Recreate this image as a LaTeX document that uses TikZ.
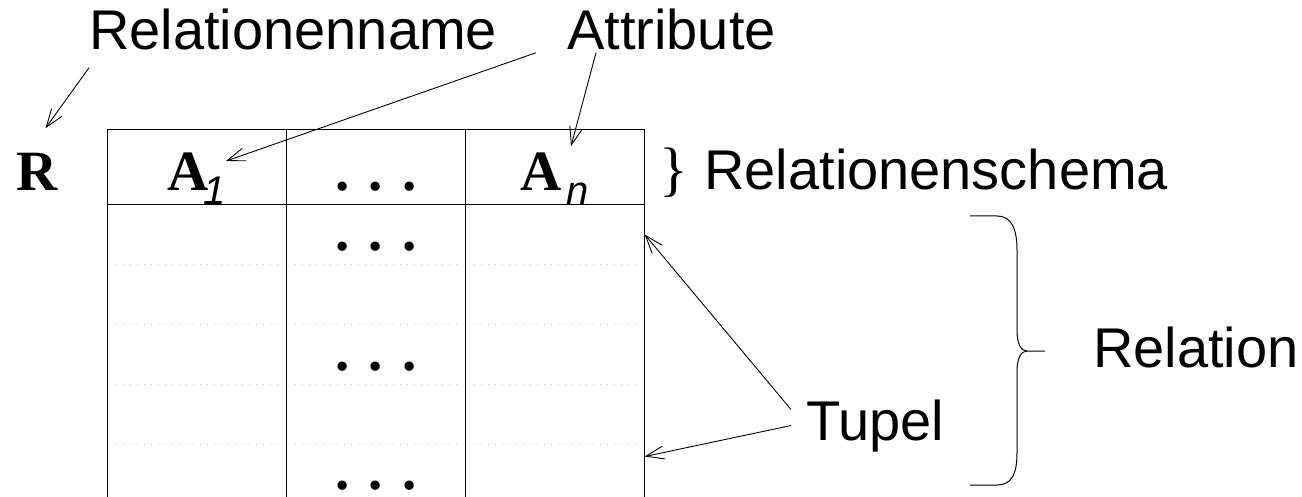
\documentclass[tikz,border=0pt]{standalone}
\usepackage{fontspec}
\setmainfont{Liberation Serif}
\setsansfont{Liberation Sans}
\usetikzlibrary{matrix,positioning,arrows.meta}

\newcommand{\capfont}{\sffamily\fontsize{56pt}{60pt}\selectfont}
\newcommand{\attrfont}{\rmfamily\bfseries\fontsize{57pt}{60pt}\selectfont}
\newcommand{\subfont}{\sffamily\mdseries\itshape\fontsize{40pt}{44pt}\selectfont}

\begin{document}
\begin{tikzpicture}[x=1pt, y=-1pt,
    frame/.style={line width=1.1pt},
    rowline/.style={gray!50, line width=1pt, dash pattern=on 1pt off 6pt},
    pointer/.style={-{Straight Barb[length=18pt,width=13pt]}, line width=0.9pt},
    captiontext/.style={font=\capfont, inner sep=0pt}
]
    \useasboundingbox (0,0) rectangle (1302,497);

    \matrix (relation table) [matrix of nodes, nodes in empty cells,
        nodes={minimum width=179pt, minimum height=60pt, inner sep=0pt,
            text height=32pt, text depth=0pt, anchor=center, font=\attrfont},
        row 1/.style={nodes={minimum height=75pt, text height=47pt}},
        row 6/.style={nodes={minimum height=56pt, text height=34pt}},
        column sep=0pt, row sep=0pt,
        anchor=north west
    ] at (104,126) {
        A\raisebox{-14pt}{\subfont\kern-5pt 1} & . . . & A\raisebox{-14pt}{\subfont\kern5pt n} \\
        & . . . & \\
        & & \\
        & . . . & \\
        & & \\
        & . . . & \\
    };

    \draw[frame] (relation table-1-1.north west) -- (relation table-1-3.north east);
    \draw[frame] (relation table-1-1.south west) -- (relation table-1-3.south east);
    \draw[frame] (relation table-1-1.north west) -- (relation table-6-1.south west);
    \foreach \c in {1,2,3}
        \draw[frame] (relation table-1-\c.north east) -- (relation table-6-\c.south east);

    \foreach \r in {2,...,5}
        \foreach \c in {1,2,3}
            \draw[rowline] ([xshift=9pt]relation table-\r-\c.south west) -- ([xshift=-7pt]relation table-\r-\c.south east);

    \node[font=\attrfont, inner sep=0pt, left=49pt of relation table-1-1.west, yshift=-5pt] (rel sym) {R};
    \node[captiontext, anchor=base west] (rel name) at (89,50) {Relationenname};
    \node[captiontext, anchor=base west] (attr name) at (567,50) {Attribute};
    \node[captiontext, right=15pt of relation table-1-3.east, yshift=-6pt] (schema name)
        {{\rmfamily\fontsize{60pt}{60pt}\selectfont\}} Relationenschema};
    \node[captiontext, anchor=base west] (tuple name) at (806,440) {Tupel};
    \node[captiontext, anchor=base west] (relation name) at (1093,367) {Relation};

    \draw[pointer] ([yshift=-17pt]rel name.south west) -- ([xshift=8pt,yshift=25pt]rel sym.north);
    \draw[pointer] ([xshift=-31pt,yshift=-2pt]attr name.south west) -- ([xshift=29pt,yshift=6pt]relation table-1-1.center);
    \draw[pointer] ([xshift=29pt,yshift=-2pt]attr name.south west) -- ([xshift=16pt,yshift=21pt]relation table-1-3.center);
    \draw[pointer] ([xshift=-15pt,yshift=16pt]tuple name.west) -- (relation table-2-3.east);
    \draw[pointer] ([xshift=-15pt]tuple name.west) -- ([yshift=16pt]relation table-6-3.east);

    % Klammer um die Tupel
    \draw[line width=1pt] (970,216) -- (997,216) .. controls (1011,216) and (1017,228) .. (1017,250)
        -- (1017,330) .. controls (1017,344) and (1021,351) .. (1027,351)
        .. controls (1021,351) and (1017,358) .. (1017,372) -- (1017,453)
        .. controls (1017,475) and (1011,485) .. (997,485) -- (970,485)
        (1027,351) -- (1045,351);
\end{tikzpicture}
\end{document}
